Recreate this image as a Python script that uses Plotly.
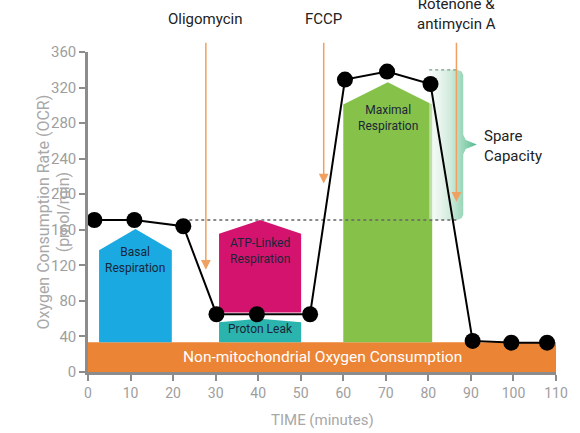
import plotly.graph_objects as go

# ---- data ----
time_min = [1.5, 10.9, 22.4, 30.2, 39.7, 52.2, 60.4, 70.3, 80.5, 90.4, 99.5, 107.9]
ocr = [171, 171, 164, 65, 65, 65, 329, 338, 324, 35, 33, 33]

non_mito_level = 33.4
basal_level = 171

# regions: name, x0, x1, base, shoulder, peak, colour
regions = [
    ("Basal<br>Respiration", 2.6, 19.7, 33.4, 137, 161, "#1aa9e1"),
    ("ATP-Linked<br>Respiration", 30.8, 50.1, 66.8, 155.5, 171, "#d4136f"),
    ("Proton Leak", 30.8, 50.1, 33.4, 56, 60, "#2bb3ad"),
    ("Maximal<br>Respiration", 60.0, 80.9, 33.4, 301, 326, "#86c24a"),
]
region_label_y = [125.6, 136, 48.5, 286]

injections = ["Oligomycin", "FCCP", "Rotenone &<br>antimycin A"]
injection_x = [27.7, 55.4, 86.6]
arrow_tip_y = [115, 212, 191.5]

spare_x0, spare_x1, spare_nub = 80.2, 88.2, 91.4
spare_top = 340

x_ticks = list(range(0, 111, 10))
y_ticks = list(range(0, 361, 40))

fig = go.Figure()

# non-mitochondrial bar
fig.add_trace(go.Scatter(
    x=[0, 110, 110, 0, 0], y=[0, 0, non_mito_level, non_mito_level, 0],
    fill="toself", fillcolor="#ec8435", line=dict(width=0), mode="lines",
    hoverinfo="skip", showlegend=False))

# pentagon regions
for (name, x0, x1, base, sh, pk, col) in regions:
    xm = (x0 + x1) / 2
    fig.add_trace(go.Scatter(
        x=[x0, x0, xm, x1, x1, x0], y=[base, sh, pk, sh, base, base],
        fill="toself", fillcolor=col, line=dict(width=0), mode="lines",
        hoverinfo="skip", showlegend=False))

# spare capacity brace with gradient
mid = (spare_top + basal_level) / 2 + 0.5
sx = [spare_x0, spare_x1 - 1.4, spare_x1 - 0.4, spare_x1, spare_x1, spare_x1 + 0.6,
      spare_nub, spare_x1 + 0.6, spare_x1, spare_x1, spare_x1 - 0.4, spare_x1 - 1.4, spare_x0, spare_x0]
sy = [spare_top, spare_top, spare_top - 2, spare_top - 6, mid + 11, mid + 5,
      mid, mid - 5, mid - 11, basal_level + 6, basal_level + 2, basal_level, basal_level, spare_top]
fig.add_trace(go.Scatter(
    x=sx, y=sy, fill="toself", mode="lines", line=dict(width=0),
    fillgradient=dict(type="horizontal",
                      colorscale=[[0, "rgba(240,248,244,0.5)"], [0.45, "#cfeadb"],
                                  [0.8, "#86cfac"], [1, "#4db88d"]]),
    hoverinfo="skip", showlegend=False))

# dotted lines
fig.add_trace(go.Scatter(
    x=[22.4, spare_x1 - 1.4], y=[basal_level, basal_level], mode="lines",
    line=dict(color="#666666", width=1.5, dash="dot"), hoverinfo="skip", showlegend=False))
fig.add_trace(go.Scatter(
    x=[spare_x0, spare_x1 - 1.4], y=[spare_top, spare_top], mode="lines",
    line=dict(color="#7a9a8a", width=1.2, dash="dot"), hoverinfo="skip", showlegend=False))

# OCR line
fig.add_trace(go.Scatter(
    x=time_min, y=ocr, mode="lines+markers",
    line=dict(color="black", width=2),
    marker=dict(color="black", size=16),
    hoverinfo="skip", showlegend=False))

ann = []
# region labels
for (name, x0, x1, *_), ly in zip(regions, region_label_y):
    ann.append(dict(x=(x0 + x1) / 2, y=ly, xref="x", yref="y", text=name, showarrow=False,
                    font=dict(size=12, color="#1a2638"), align="center"))
ann.append(dict(x=55.1, y=17, xref="x", yref="y", text="Non-mitochondrial Oxygen Consumption",
                showarrow=False, font=dict(size=15.5, color="white")))

# injection arrows + labels
for lab, ix, tip in zip(injections, injection_x, arrow_tip_y):
    ann.append(dict(x=ix, y=tip, xref="x", yref="y", ax=ix, ay=372, axref="x", ayref="y",
                    text="", showarrow=True, arrowhead=2, arrowsize=1.3, arrowwidth=1.5,
                    arrowcolor="#f0a060"))
    ypos = 1.12 if "<br>" in lab else 1.102
    ann.append(dict(x=ix, y=ypos, xref="x", yref="paper", text=lab, showarrow=False,
                    font=dict(size=15, color="#222222"), align="center", yanchor="middle"))

ann.append(dict(x=92.7, y=254.6, xref="x", yref="y", text="Spare<br>Capacity", showarrow=False,
                xanchor="left", align="left", font=dict(size=15, color="#222222")))

# axis titles
ann.append(dict(x=-0.1207, y=0.5, xref="paper", yref="paper",
                text="Oxygen Consumption Rate (OCR)<br>(pmol/min)", textangle=-90,
                showarrow=False, font=dict(size=16, color="#a8a8a8"), align="center"))
ann.append(dict(x=0.5, y=-0.150, xref="paper", yref="paper", text="TIME (minutes)",
                showarrow=False, font=dict(size=15, color="#a8a8a8"), yanchor="middle"))

fig.update_layout(
    width=580, height=433,
    margin=dict(l=88, r=12, t=52, b=61),
    paper_bgcolor="white", plot_bgcolor="white",
    font=dict(family="Roboto"),
    annotations=ann,
    xaxis=dict(range=[0, 110], tickvals=x_ticks, showgrid=False, zeroline=False,
               showline=True, linecolor="#8c8c8c", linewidth=2.5,
               ticks="outside", ticklen=6, tickwidth=2, tickcolor="#8c8c8c",
               tickfont=dict(size=14, color="#9e9e9e")),
    yaxis=dict(range=[0, 360], tickvals=y_ticks, showgrid=False, zeroline=False,
               showline=True, linecolor="#8c8c8c", linewidth=2.5,
               ticks="outside", ticklen=6, tickwidth=2, tickcolor="#8c8c8c",
               tickfont=dict(size=15, color="#9e9e9e")),
)

fig.write_html("out.html", config={"displayModeBar": False},
               post_script="document.body.style.margin='0';document.body.style.overflow='hidden';")
